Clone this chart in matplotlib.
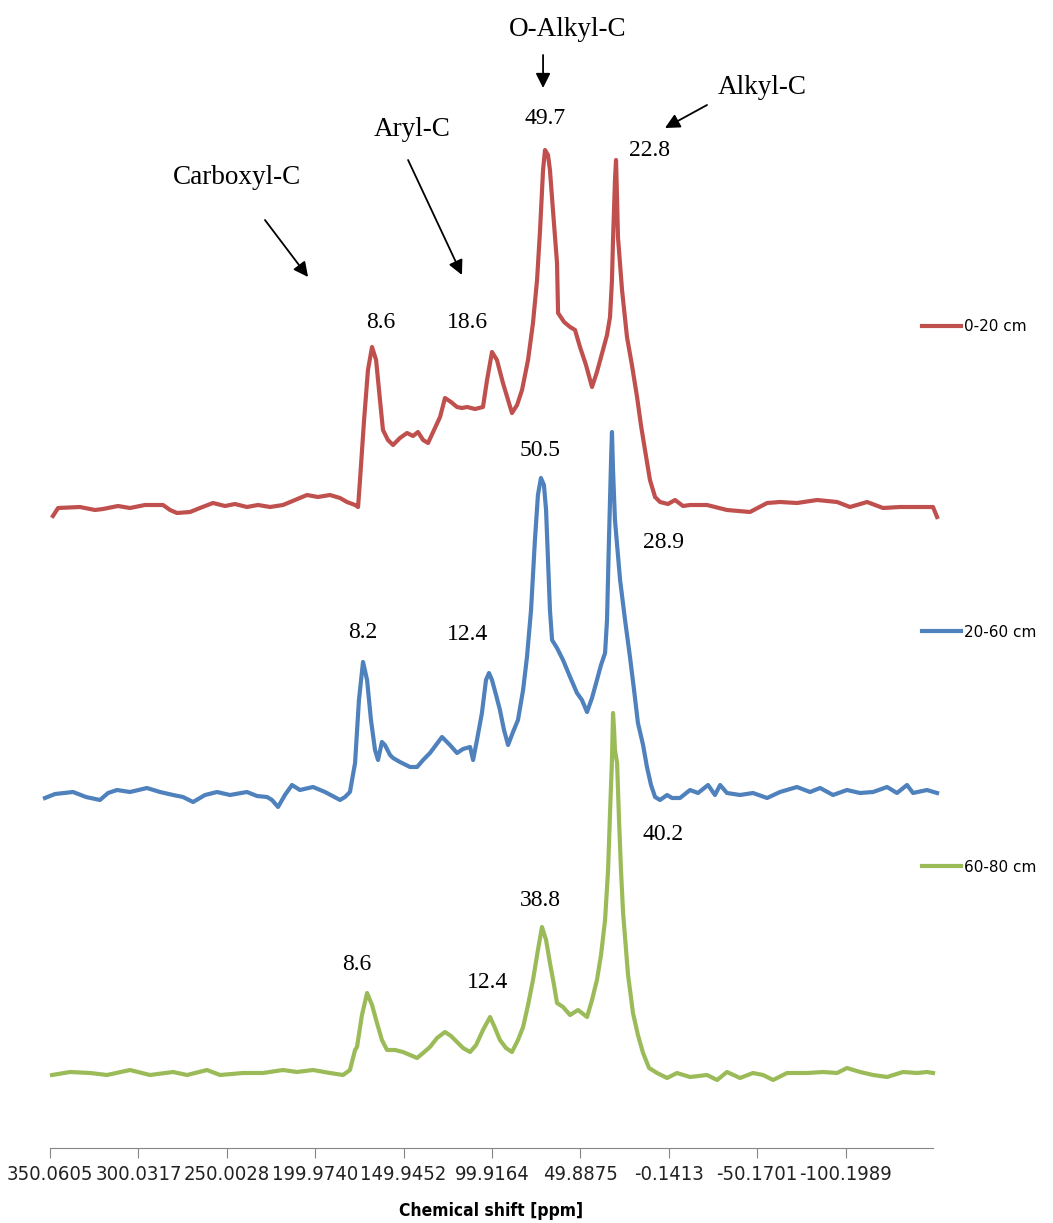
import matplotlib
matplotlib.use("Agg")
import matplotlib.pyplot as plt
from matplotlib import font_manager
import numpy as np

# 13C CPMAS NMR spectra of three soil depths
# intensity in arbitrary units, relative to each trace's own baseline

red_ppm = [348.4, 345.5, 333.1, 324.6, 320.1, 311.6, 304.8, 296.3, 286.1, 282.1, 278.2, 270.8,
           265.2, 257.8, 251.0, 245.4, 238.6, 232.3, 225.5, 218.2, 211.4, 204.6, 198.4, 191.6,
           185.9, 182.0, 177.4, 175.7, 174.6, 172.3, 170.1, 167.8, 165.5, 163.3, 161.6, 158.8,
           155.9, 152.0, 148.0, 144.6, 141.8, 138.9, 136.1, 132.7, 129.3, 126.5, 123.1, 119.7,
           116.9, 114.0, 109.5, 105.0, 102.7, 99.9, 97.1, 93.7, 90.8, 88.6, 85.7, 82.9, 79.5,
           76.7, 74.4, 72.7, 71.0, 69.9, 68.2, 67.1, 65.4, 63.1, 62.5, 59.1, 55.7, 52.9, 50.1,
           46.7, 43.3, 40.5, 37.1, 34.8, 33.1, 32.0, 31.4, 30.3, 29.7, 29.1, 28.6, 26.3, 23.5,
           20.7, 17.8, 15.6, 13.3, 10.5, 7.6, 4.8, 0.3, -3.7, -8.2, -12.2, -21.8, -33.1, -46.1,
           -55.8, -63.1, -72.7, -84.1, -95.4, -102.7, -112.4, -121.4, -131.0, -144.1, -149.7, -152.0]
red_int = [-0.8, 0.0, 0.1, -0.2, -0.1, 0.2, 0.0, 0.3, 0.3, -0.2, -0.5, -0.4,
           0.0, 0.5, 0.2, 0.4, 0.1, 0.3, 0.1, 0.3, 0.8, 1.3, 1.1, 1.3,
           1.0, 0.6, 0.3, 0.1, 2.8, 8.8, 13.8, 16.1, 14.8, 10.8, 7.8, 6.8,
           6.3, 7.0, 7.5, 7.2, 7.6, 6.8, 6.5, 7.8, 9.1, 11.0, 10.6, 10.1,
           10.0, 10.1, 9.9, 10.1, 12.8, 15.6, 14.8, 12.5, 10.8, 9.5, 10.3, 11.8, 14.8,
           18.5, 22.8, 27.8, 33.8, 35.8, 35.3, 33.8, 29.8, 24.5, 19.5, 18.6, 18.1, 17.8, 16.1,
           14.3, 12.1, 13.6, 15.8, 17.3, 19.1, 22.8, 26.8, 32.8, 34.8, 30.8, 27.1, 21.8, 17.1,
           14.3, 11.1, 8.3, 5.8, 2.8, 1.1, 0.6, 0.4, 0.8, 0.2, 0.3, 0.3, -0.2, -0.4,
           0.5, 0.6, 0.5, 0.8, 0.6, 0.1, 0.6, 0.0, 0.1, 0.1, 0.1, -0.9]

blue_ppm = [352.9, 347.2, 337.0, 329.7, 321.8, 317.2, 312.1, 304.8, 295.2, 287.8, 280.4, 274.8,
            269.1, 262.3, 255.5, 248.2, 238.6, 232.9, 227.2, 224.4, 221.0, 217.1, 213.1, 208.6,
            201.2, 194.4, 185.9, 183.1, 180.3, 177.4, 175.2, 172.9, 170.6, 168.4, 166.1, 164.4,
            162.2, 160.5, 157.6, 155.9, 152.0, 146.3, 142.3, 138.9, 135.0, 131.6, 128.2, 123.7,
            119.7, 116.3, 112.3, 110.6, 108.4, 105.6, 103.3, 101.6, 99.9, 97.6, 95.4, 93.1, 90.8,
            88.0, 85.2, 82.3, 80.1, 77.8, 75.6, 73.9, 72.2, 70.5, 69.3, 68.2, 67.1, 65.9, 63.1,
            59.7, 55.7, 51.8, 49.0, 46.1, 43.3, 40.5, 38.2, 35.9, 34.8, 33.7, 32.5, 32.0, 31.4,
            30.3, 29.1, 27.4, 24.6, 21.8, 19.5, 17.3, 14.4, 12.2, 9.9, 7.6, 4.8, 0.8, -2.0,
            -6.5, -12.2, -16.7, -22.4, -26.3, -29.2, -33.1, -40.5, -47.8, -55.8, -63.1, -72.7,
            -80.1, -85.8, -93.1, -101.0, -108.4, -115.8, -123.7, -129.3, -135.0, -138.4, -146.3,
            -152.0]
blue_int = [-0.3, 0.1, 0.3, -0.2, -0.5, 0.2, 0.5, 0.3, 0.7, 0.3, 0.0, -0.2,
            -0.7, 0.0, 0.3, 0.0, 0.3, -0.1, -0.2, -0.5, -1.2, 0.0, 1.0, 0.5,
            0.8, 0.3, -0.5, -0.2, 0.3, 3.2, 9.5, 13.3, 11.5, 7.5, 4.5, 3.5,
            5.3, 5.0, 4.0, 3.7, 3.3, 2.8, 2.8, 3.5, 4.2, 5.0, 5.8, 5.0,
            4.2, 4.6, 4.8, 3.5, 5.5, 8.2, 11.5, 12.2, 11.5, 10.0, 8.5, 6.5, 5.0,
            6.3, 7.5, 10.5, 13.8, 18.5, 25.5, 30.0, 31.7, 31.0, 28.5, 23.5, 18.5, 15.5, 14.7,
            13.5, 11.8, 10.2, 9.5, 8.3, 9.7, 11.5, 13.0, 14.2, 17.5, 25.5, 33.5, 36.3, 32.5,
            27.5, 25.0, 21.5, 17.5, 13.8, 10.5, 7.2, 5.0, 2.8, 1.0, -0.2, -0.5, 0.0, -0.3,
            -0.3, 0.5, 0.2, 1.0, 0.0, 1.0, 0.2, 0.0, 0.2, -0.3, 0.3, 0.8,
            0.3, 0.7, 0.0, 0.5, 0.2, 0.3, 0.8, 0.2, 1.0, 0.2, 0.5,
            0.2]

green_ppm = [348.9, 338.7, 327.4, 317.8, 304.8, 293.5, 280.4, 272.5, 261.2, 253.8, 240.8, 229.5,
             218.2, 210.3, 201.2, 191.6, 184.2, 180.3, 177.4, 176.3, 173.5, 170.6, 167.8, 165.0,
             162.2, 159.3, 154.8, 150.3, 146.3, 142.3, 138.9, 135.0, 131.0, 126.5, 123.1, 119.7,
             116.3, 112.3, 108.9, 105.0, 101.0, 98.2, 95.4, 92.0, 88.6, 85.2, 82.3, 79.5, 76.7,
             73.9, 71.6, 69.3, 67.1, 64.8, 63.1, 59.7, 55.7, 51.2, 46.1, 43.3, 40.5, 38.2, 35.9,
             34.2, 33.1, 32.0, 31.4, 30.8, 30.3, 29.1, 28.0, 26.9, 25.7, 22.9, 20.1, 17.3, 14.4,
             11.0, 6.5, 0.8, -4.8, -12.2, -21.8, -27.5, -33.1, -40.5, -47.8, -53.5, -59.2, -67.1,
             -78.4, -87.5, -95.4, -101.0, -108.4, -115.8, -123.7, -132.7, -140.7, -146.3, -149.7]
green_int = [0.2, 0.5, 0.4, 0.2, 0.7, 0.2, 0.5, 0.2, 0.7, 0.2, 0.4, 0.4,
             0.7, 0.5, 0.7, 0.4, 0.2, 0.7, 2.7, 3.0, 6.2, 8.4, 7.2, 5.4,
             3.7, 2.7, 2.7, 2.5, 2.2, 1.9, 2.4, 3.0, 3.9, 4.5, 4.1, 3.5,
             2.9, 2.5, 3.2, 4.7, 6.0, 4.9, 3.7, 2.9, 2.5, 3.7, 5.0, 7.2, 9.7,
             12.7, 15.0, 13.7, 11.4, 9.2, 7.4, 7.0, 6.2, 6.7, 6.0, 7.7, 9.7, 12.2, 15.7,
             20.7, 26.4, 31.7, 36.4, 34.7, 32.7, 31.4, 25.7, 20.7, 16.4, 10.2, 6.4, 4.2, 2.4,
             0.9, 0.4, -0.1, 0.4, 0.0, 0.2, -0.3, 0.5, -0.1, 0.4, 0.2, -0.3, 0.4,
             0.4, 0.5, 0.4, 0.9, 0.5, 0.2, 0.0, 0.5, 0.4, 0.5, 0.4]

series_labels = ['0-20 cm', '20-60 cm', '60-80 cm']
series_colors = ['#C0504D', '#4F81BD', '#9BBB59']
offsets = [64.0, 35.3, 7.1]   # vertical stacking of the traces

tick_pos = [350.0605, 300.0317, 250.0028, 199.9740, 149.9452, 99.9164, 49.8875, -0.1413,
            -50.1701, -100.1989]
tick_labels = ['350.0605', '300.0317', '250.0028', '199.9740', '149.9452', '99.9164',
               '49.8875', '-0.1413', '-50.1701', '-100.1989']

# peak percentages: (text, ppm, height)
peak_notes = [('49.7', 69.9, 103.0), ('22.8', 10.5, 99.8), ('8.6', 162.7, 82.5),
              ('18.6', 113.5, 82.5), ('50.5', 72.7, 69.7), ('28.9', 3.1, 60.6),
              ('8.2', 172.9, 51.6), ('12.4', 113.5, 51.3), ('8.6', 176.3, 18.3),
              ('12.4', 102.2, 16.5), ('38.8', 72.7, 24.8), ('40.2', 3.1, 31.3)]

# carbon groups: (text, label pos, arrow start, arrow end)
groups = [('Carboxyl-C', (244.2, 97.1), (228.4, 92.8), (204.0, 87.1)),
          ('Aryl-C', (145.2, 101.8), (147.4, 98.8), (116.9, 87.3)),
          ('O-Alkyl-C', (56.9, 111.8), (71.0, 109.3), (71.0, 106.0)),
          ('Alkyl-C', (-52.9, 106.1), (-21.8, 104.3), (2.0, 102.0))]


def find_condensed(bold):
    # DejaVu Sans Condensed stands in for the narrow Calibri used by Excel
    for f in font_manager.fontManager.ttflist:
        if f.name != 'DejaVu Sans' or f.style != 'normal':
            continue
        if f.stretch not in ('condensed', 'semi-condensed', 500, 600):
            continue
        isbold = f.weight in (700, 'bold')
        if isbold == bold:
            return f.fname
    return None


reg = find_condensed(False)
bld = find_condensed(True)
if reg:
    tick_font = font_manager.FontProperties(fname=reg, size=14.5)
else:
    tick_font = font_manager.FontProperties(family='DejaVu Sans', size=12.5)
if bld:
    xlab_font = font_manager.FontProperties(fname=bld, size=12.5)
else:
    xlab_font = font_manager.FontProperties(family='DejaVu Sans', weight='bold', size=11.5)

fig = plt.figure(figsize=(10.53, 12.23), dpi=100)
ax = fig.add_axes([50 / 1053, 75 / 1223, 883 / 1053, 1048 / 1223])

traces = [(red_ppm, red_int), (blue_ppm, blue_int), (green_ppm, green_int)]
lines = []
for (x, y), off, col, lab in zip(traces, offsets, series_colors, series_labels):
    ln, = ax.plot(x, np.array(y) + off, color=col, lw=3.0, label=lab,
                  solid_joinstyle='round', clip_on=False)
    lines.append(ln)

ax.set_xlim(350.0605, -149.7)
ax.set_ylim(0, 104.8)

for s in ['left', 'right', 'top']:
    ax.spines[s].set_visible(False)
ax.spines['bottom'].set_color('#868686')
ax.set_yticks([])
ax.set_xticks(tick_pos, tick_labels)
ax.tick_params(axis='x', direction='out', length=7, color='#868686', pad=5,
               labelcolor='#222222')
for t in ax.get_xticklabels():
    t.set_fontproperties(tick_font)
ax.set_xlabel('Chemical shift [ppm]', fontproperties=xlab_font, labelpad=13)

for txt, xp, yp in peak_notes:
    ax.text(xp, yp, txt, ha='center', va='center', fontsize=17,
            family='Liberation Serif', clip_on=False)

for txt, pos, a0, a1 in groups:
    ax.text(pos[0], pos[1], txt, ha='center', va='center', fontsize=19.5,
            family='Liberation Serif', clip_on=False)
    ax.annotate('', xy=a1, xytext=a0, annotation_clip=False,
                arrowprops=dict(arrowstyle='-|>', color='black', lw=1.3,
                                mutation_scale=22, shrinkA=0, shrinkB=0))

# Excel-style legend, entries spread down the right side
leg_y = [1 - 327 / 1223, 1 - 632 / 1223, 1 - 867 / 1223]
for ln, yy in zip(lines, leg_y):
    fig.legend(handles=[ln], loc='center left', bbox_to_anchor=(908 / 1053, yy),
               frameon=False, handlelength=2.6, handletextpad=0.15,
               prop={'family': 'DejaVu Sans', 'size': 11})

plt.savefig('out.png', dpi=100)
